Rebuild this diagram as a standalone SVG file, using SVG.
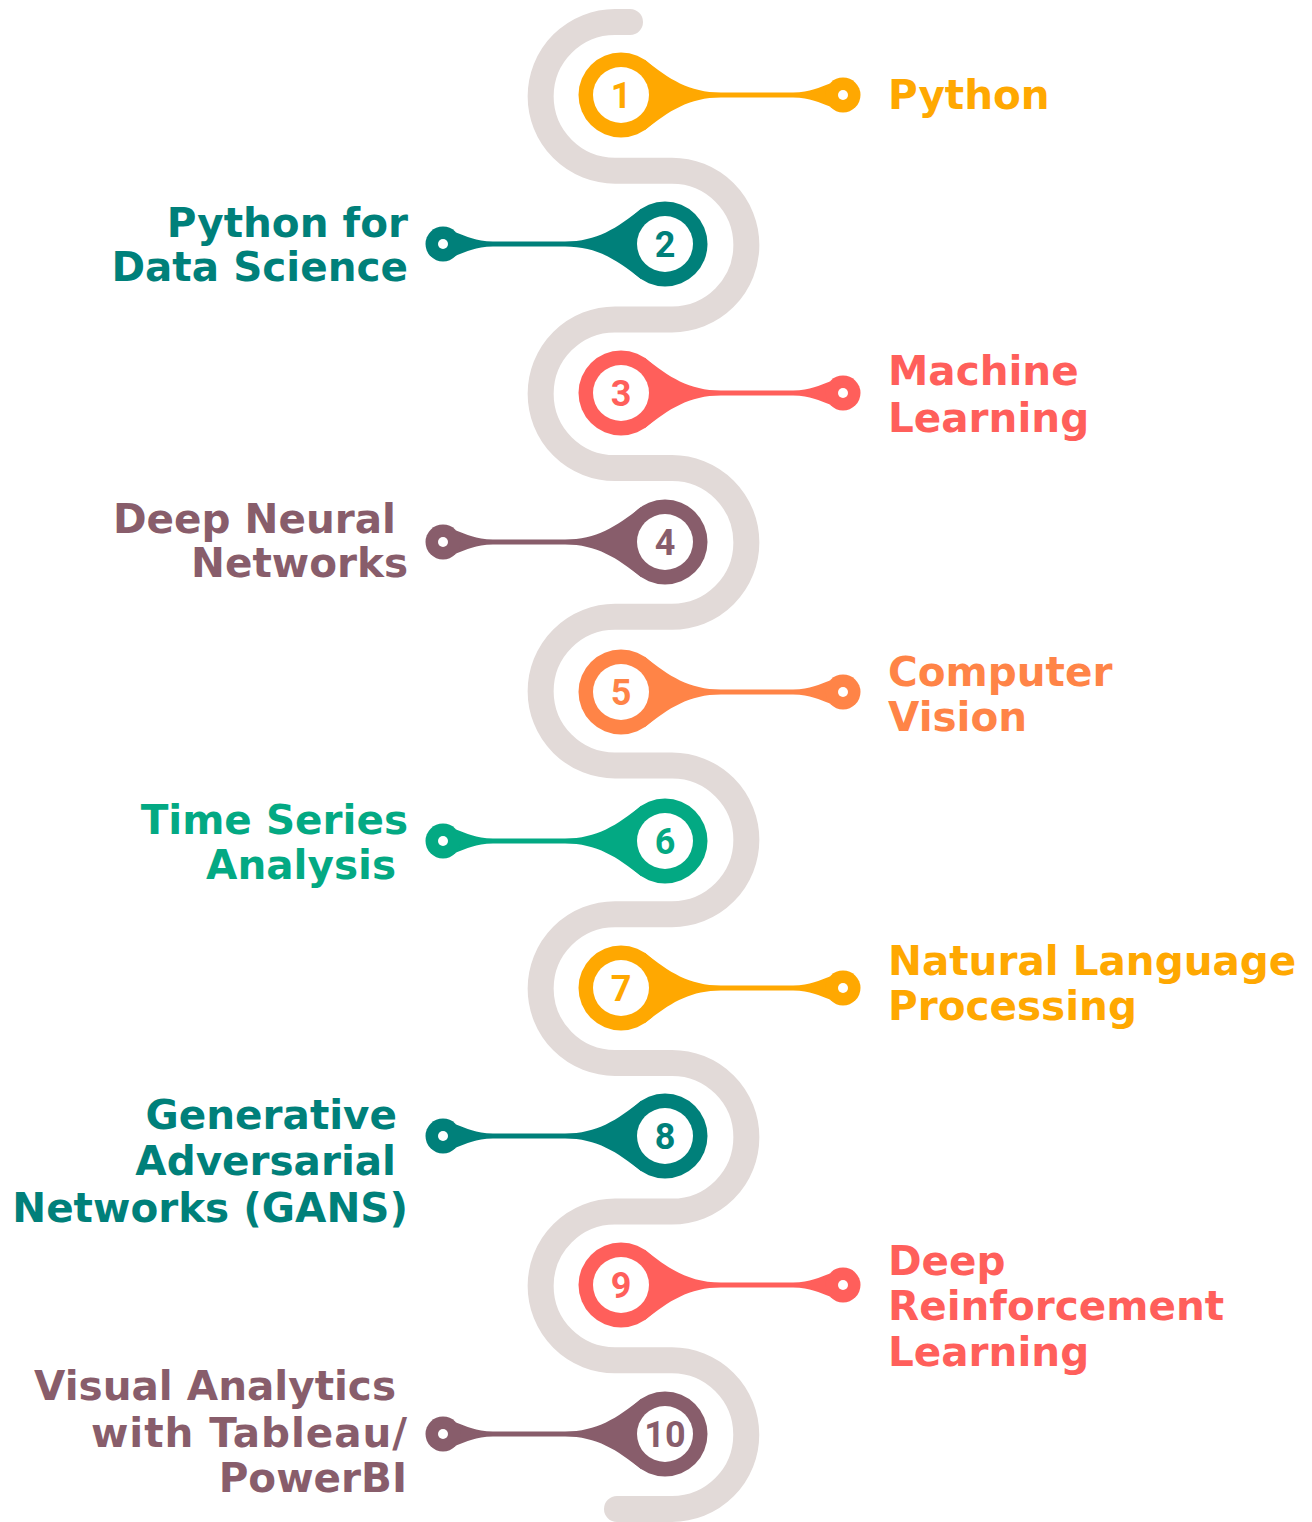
<svg xmlns="http://www.w3.org/2000/svg" xmlns:xlink="http://www.w3.org/1999/xlink" width="1312" height="1522" viewBox="0 0 1312 1522">
<style>
.lbl{font-family:"DejaVu Sans","Liberation Sans",sans-serif;font-weight:bold;font-size:40.5px}
.end{text-anchor:end}
.num{font-family:Roboto,"Liberation Sans",sans-serif;font-weight:700;font-size:36px;text-anchor:middle}
.c1{fill:#FFA801}.c2{fill:#00807A}.c3{fill:#FF5F5B}.c4{fill:#885D6B}.c5{fill:#FF8447}.c6{fill:#03A983}
</style>
<defs>
<g id="pinR">
<circle r="42.5"/>
<path d="M24,-35 C48,-16 68,-2.5 100,-2.5 L172,-2.5 C190,-2.5 198,-8 209,-11.5 L209,11.5 C198,8 190,2.5 172,2.5 L100,2.5 C68,2.5 48,16 24,35 Z"/>
<circle cx="222" r="17.5"/>
<circle r="28" fill="#fff"/>
<circle cx="222" r="5" fill="#fff"/>
</g>
</defs>
<rect width="1312" height="1522" fill="#fff"/>
<g id="connectors">
<path fill="none" stroke="#E2DAD8" stroke-width="26" stroke-linecap="round" d="M630,22 L615,22 A74.35,74.35 0 0 0 615,170.7 L672,170.7 A74.35,74.35 0 0 1 672,319.4 L615,319.4 A74.35,74.35 0 0 0 615,468.1 L672,468.1 A74.35,74.35 0 0 1 672,616.8 L615,616.8 A74.35,74.35 0 0 0 615,765.5 L672,765.5 A74.35,74.35 0 0 1 672,914.2 L615,914.2 A74.35,74.35 0 0 0 615,1062.9 L672,1062.9 A74.35,74.35 0 0 1 672,1211.6 L615,1211.6 A74.35,74.35 0 0 0 615,1360.3 L672,1360.3 A74.35,74.35 0 0 1 672,1509 L617,1509"/>
</g>
<g id="node1">
<use xlink:href="#pinR" href="#pinR" transform="translate(621,95)" class="c1"/>
<text class="num c1" x="621" y="108">1</text>
<text class="lbl c1" x="888" y="109">Python</text>
</g>
<g id="node2">
<use xlink:href="#pinR" href="#pinR" transform="translate(665,244) scale(-1,1)" class="c2"/>
<text class="num c2" x="665" y="257">2</text>
<text class="lbl end c2" x="408" y="237">Python for</text>
<text class="lbl end c2" x="408" y="281">Data Science</text>
</g>
<g id="node3">
<use xlink:href="#pinR" href="#pinR" transform="translate(621,393)" class="c3"/>
<text class="num c3" x="621" y="406">3</text>
<text class="lbl c3" x="888" y="385">Machine</text>
<text class="lbl c3" x="888" y="432">Learning</text>
</g>
<g id="node4">
<use xlink:href="#pinR" href="#pinR" transform="translate(665,542) scale(-1,1)" class="c4"/>
<text class="num c4" x="665" y="555">4</text>
<text class="lbl end c4" x="396" y="533">Deep Neural</text>
<text class="lbl end c4" x="408" y="577">Networks</text>
</g>
<g id="node5">
<use xlink:href="#pinR" href="#pinR" transform="translate(621,692)" class="c5"/>
<text class="num c5" x="621" y="705">5</text>
<text class="lbl c5" x="888" y="686">Computer</text>
<text class="lbl c5" x="888" y="731">Vision</text>
</g>
<g id="node6">
<use xlink:href="#pinR" href="#pinR" transform="translate(665,841) scale(-1,1)" class="c6"/>
<text class="num c6" x="665" y="854">6</text>
<text class="lbl end c6" x="408" y="834">Time Series</text>
<text class="lbl end c6" x="396" y="879">Analysis</text>
</g>
<g id="node7">
<use xlink:href="#pinR" href="#pinR" transform="translate(621,988)" class="c1"/>
<text class="num c1" x="621" y="1001">7</text>
<text class="lbl c1" x="888" y="975">Natural Language</text>
<text class="lbl c1" x="888" y="1020">Processing</text>
</g>
<g id="node8">
<use xlink:href="#pinR" href="#pinR" transform="translate(665,1136) scale(-1,1)" class="c2"/>
<text class="num c2" x="665" y="1149">8</text>
<text class="lbl end c2" x="397" y="1129">Generative</text>
<text class="lbl end c2" x="396" y="1175">Adversarial</text>
<text class="lbl end c2" x="408" y="1222">Networks (GANS)</text>
</g>
<g id="node9">
<use xlink:href="#pinR" href="#pinR" transform="translate(621,1285)" class="c3"/>
<text class="num c3" x="621" y="1298">9</text>
<text class="lbl c3" x="888" y="1275">Deep</text>
<text class="lbl c3" x="888" y="1320">Reinforcement</text>
<text class="lbl c3" x="888" y="1366">Learning</text>
</g>
<g id="node10">
<use xlink:href="#pinR" href="#pinR" transform="translate(665,1434) scale(-1,1)" class="c4"/>
<text class="num c4" x="665" y="1447">10</text>
<text class="lbl end c4" x="396" y="1400">Visual Analytics</text>
<text class="lbl end c4" x="407" y="1447" textLength="316" lengthAdjust="spacing">with Tableau/</text>
<text class="lbl end c4" x="407" y="1492">PowerBI</text>
</g>
</svg>
